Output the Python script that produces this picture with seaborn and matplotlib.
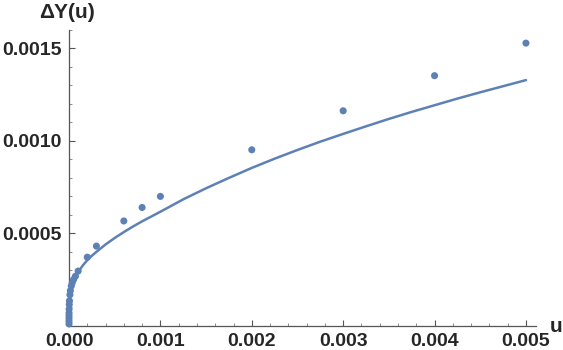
import numpy as np
import pandas as pd
import matplotlib
matplotlib.use("Agg")
import matplotlib.pyplot as plt
from matplotlib.ticker import MultipleLocator, FormatStrFormatter
import seaborn as sns

# Data points
u_points = [0.005, 0.004, 0.003, 0.002, 0.001, 0.0008, 0.0006, 0.0003, 0.0002, 0.0001,
            7e-5, 5e-5, 3.5e-5, 2.5e-5, 1.5e-5, 1e-5, 5e-6, 3e-6, 1e-6, 5e-7,
            2e-7, 1e-7, 5e-8, 1e-8]
dy_points = [0.001529, 0.001353, 0.001163, 0.000952, 0.000700, 0.000640, 0.000567, 0.000431,
             0.000371, 0.000296, 0.000268, 0.000250, 0.000232, 0.000215, 0.000190, 0.000168,
             0.000135, 0.000115, 0.000090, 0.000070, 0.000055, 0.000040, 0.000025, 0.000010]

# Fitted curve
u_curve = [0, 1e-8, 1e-7, 5e-7, 1e-6, 2e-6, 5e-6, 1e-5, 2e-5, 3e-5, 5e-5, 7e-5,
           1e-4, 1.5e-4, 2e-4, 2.5e-4, 3e-4, 4e-4, 5e-4, 6e-4, 7e-4, 8e-4, 9e-4,
           1e-3, 1.25e-3, 1.5e-3, 1.75e-3, 2e-3, 2.25e-3, 2.5e-3, 2.75e-3, 3e-3,
           3.25e-3, 3.5e-3, 3.75e-3, 4e-3, 4.25e-3, 4.5e-3, 4.75e-3, 5e-3]
dy_curve = [0, 0.000030, 0.000055, 0.000080, 0.000094, 0.000109, 0.000135, 0.000159,
            0.000189, 0.000210, 0.000240, 0.000262, 0.000290, 0.000326, 0.000355, 0.000379,
            0.000400, 0.000440, 0.000475, 0.000507, 0.000537, 0.000565, 0.000591, 0.000617,
            0.000684, 0.000744, 0.000800, 0.000854, 0.000904, 0.000951, 0.000996, 0.001038,
            0.001079, 0.001119, 0.001157, 0.001193, 0.001229, 0.001263, 0.001296, 0.001329]

x_ticks = [0.000, 0.001, 0.002, 0.003, 0.004, 0.005]
y_ticks = [0.0005, 0.0010, 0.0015]

blue = "#5E81B5"

sns.set_style("white")
plt.rcParams['font.family'] = ['Liberation Sans', 'DejaVu Sans']

fig = plt.figure(figsize=(5.63, 3.5), dpi=100)
ax = fig.add_axes([69/563, 1 - 325.8/350, (536 - 69)/563, (325.8 - 30)/350])

pts = pd.DataFrame({"u": u_points, "dy": dy_points})
crv = pd.DataFrame({"u": u_curve, "dy": dy_curve})

sns.lineplot(data=crv, x="u", y="dy", ax=ax, color=blue, linewidth=1.8, sort=True,
             estimator=None)
sns.scatterplot(data=pts, x="u", y="dy", ax=ax, color=blue, s=26, edgecolor="none",
                clip_on=False, zorder=3)

ax.set_xlim(0, 0.00511)
ax.set_ylim(0, 0.0016)
ax.set_xlabel("")
ax.set_ylabel("")

for s in ["top", "right"]:
    ax.spines[s].set_visible(False)
for s in ["left", "bottom"]:
    ax.spines[s].set_color("#555555")
    ax.spines[s].set_linewidth(0.9)

ax.set_xticks(x_ticks)
ax.set_yticks(y_ticks)
ax.xaxis.set_major_formatter(FormatStrFormatter("%.3f"))
ax.yaxis.set_major_formatter(FormatStrFormatter("%.4f"))
ax.xaxis.set_minor_locator(MultipleLocator(0.0002))
ax.yaxis.set_minor_locator(MultipleLocator(0.0001))
ax.tick_params(which="major", direction="in", length=4, width=0.8, color="#555555",
               labelsize=14, pad=5, bottom=True, left=True)
ax.tick_params(which="minor", direction="in", length=2.2, width=0.6, color="#777777",
               bottom=True, left=True)
for lab in ax.get_xticklabels() + ax.get_yticklabels():
    lab.set_fontweight("bold")

fig.text(67.5/563, 1 - 13/350, "ΔY(u)", ha="center", va="center", fontsize=15,
         fontweight="bold")
fig.text(556/563, 1 - 327/350, "u", ha="center", va="center", fontsize=15,
         fontweight="bold")

fig.savefig("out.png", dpi=100)
